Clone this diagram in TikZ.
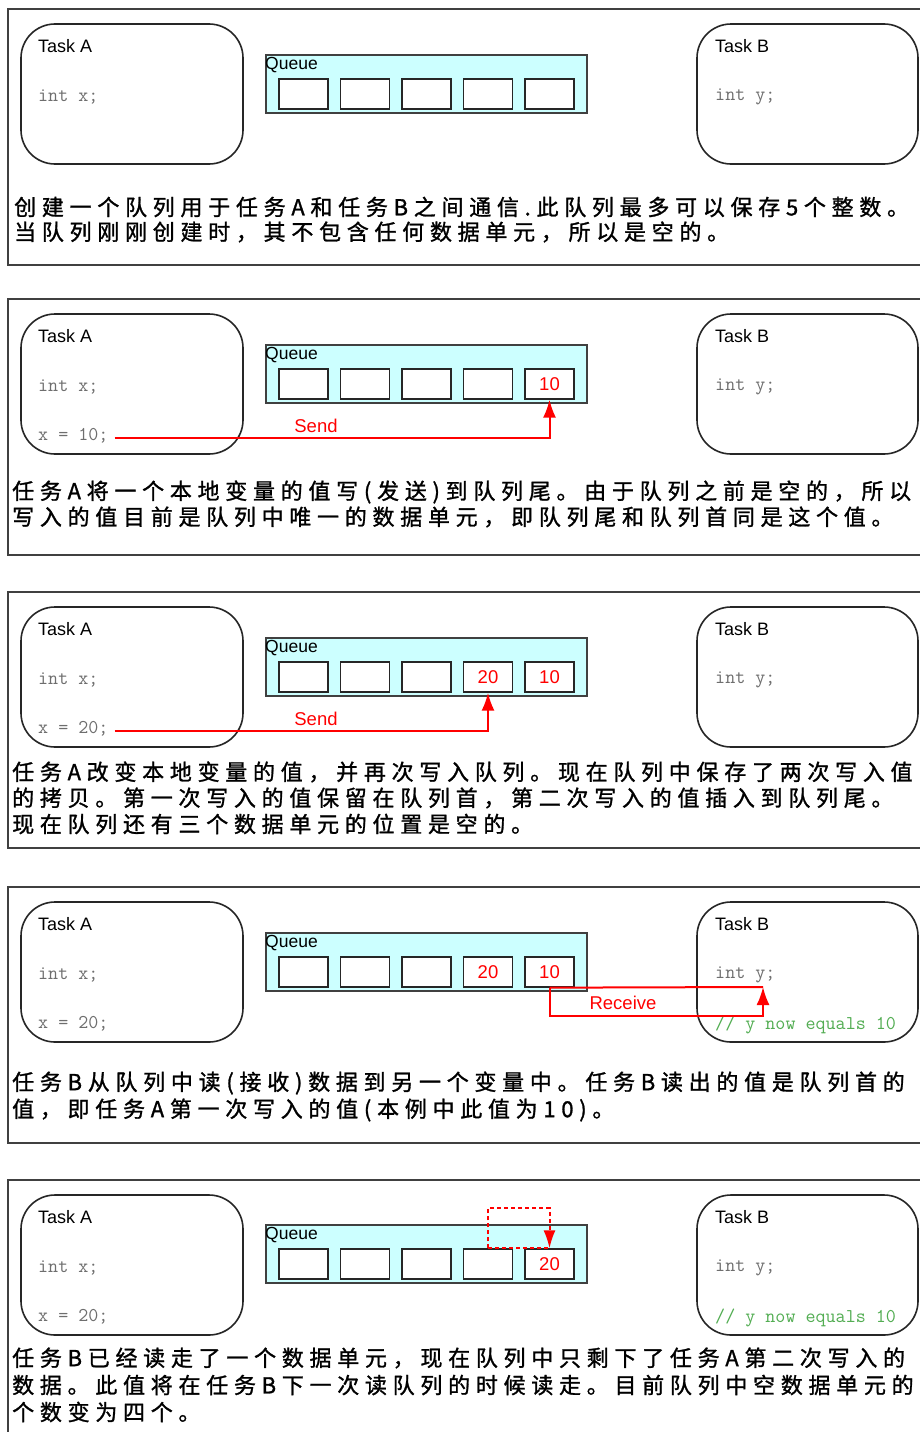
\documentclass[tikz,border=0pt]{standalone}
\usepackage{fontspec}
\setmainfont{Liberation Sans}
\newfontfamily\cjk[LetterSpace=26,FakeBold=1.2]{Noto Sans CJK SC}
\usetikzlibrary{arrows.meta}
\definecolor{qcyan}{HTML}{CCFFFF}
\definecolor{codegreen}{HTML}{52AD52}
\definecolor{codegray}{HTML}{6E6E6E}
\tikzset{
 frame/.style={draw=black!75, line width=1.3pt},
 taskbox/.style={draw=black!85, line width=1.6pt, rounded corners=34pt, minimum width=222pt, minimum height=140pt, inner sep=0},
 tasklbl/.style={anchor=west, inner sep=0, font=\fontsize{18}{20}\selectfont},
 code/.style={anchor=west, inner sep=0, text=codegray, font=\ttfamily\fontsize{19.5}{22}\selectfont},
 comment/.style={code, text=codegreen},
 qbox/.style={draw=black!75, line width=1.2pt, fill=qcyan, minimum width=321pt, minimum height=58pt, inner sep=0},
 qlbl/.style={anchor=west, inner sep=0, font=\fontsize{17.5}{20}\selectfont},
 cell/.style={draw=black!85, line width=1.3pt, fill=white, minimum width=49pt, minimum height=30pt, inner sep=0},
 val/.style={text=red, inner sep=0, font=\fontsize{18.5}{20}\selectfont},
 redlbl/.style={text=red, inner sep=0, font=\fontsize{18.5}{20}\selectfont},
 sendln/.style={draw=red, line width=2pt, -{Latex[length=18pt,width=13pt]}},
 recvln/.style={draw=red, line width=2pt},
 dashln/.style={draw=red, line width=2pt, dash pattern=on 4pt off 3pt},
 para/.style={anchor=west, inner sep=0, font=\cjk\fontsize{22}{26}\selectfont},
}
% id, frame top, task top, queue top
\newcommand\qpanel[4]{%
 \draw[frame] (930,#2) -- (8,#2) -- (8,{#2+256}) -- (930,{#2+256});
 \node[taskbox] (#1A) at (132,{#3+70}) {};
 \node[taskbox, minimum width=221pt] (#1B) at (807.5,{#3+70}) {};
 \node[tasklbl] (#1An) at (38,{#3+22}) {Task A};
 \node[code] (#1Ai) at (38,{#3+73}) {int x;};
 \node[tasklbl] (#1Bn) at (715,{#3+22}) {Task B};
 \node[code] (#1Bi) at (715,{#3+73}) {int y;};
 \node[qbox] (#1Q) at (426.5,{#4+29}) {};
 \node[qlbl] (#1Ql) at (265,{#4+10}) {Queue};
 \foreach \i in {1,...,5} {\node[cell] (#1c\i) at ({303.5+61.5*(\i-1)},{#4+39}) {};}
}
\begin{document}
\begin{tikzpicture}[x=1pt,y=-1pt]
\useasboundingbox (0,0) rectangle (919,1432);
\fill[white] (0,0) rectangle (919,1432);
% ---------- panel 1
\qpanel{1}{9}{24}{55}
\node[para] (p1a) at (14,207) {创建一个队列用于任务A和任务B之间通信.此队列最多可以保存5个整数。};
\node[para] (p1b) at (14,232) {当队列刚刚创建时，其不包含任何数据单元，所以是空的。};
% ---------- panel 2
\qpanel{2}{299}{314}{345}
\node[code] (2Ax) at (38,436) {x = 10;};
\node[val] (2v5) at (2c5) {10};
\draw[sendln, shorten <=6pt] ([yshift=-2pt]2Ax.east) -| (2c5.south);
\node[redlbl] (2snd) at (316,426) {Send};
\node[para] (p2a) at (12,492) {任务A将一个本地变量的值写(发送)到队列尾。由于队列之前是空的，所以};
\node[para] (p2b) at (12,517) {写入的值目前是队列中唯一的数据单元，即队列尾和队列首同是这个值。};
% ---------- panel 3
\qpanel{3}{592}{607}{638}
\node[code] (3Ax) at (38,729) {x = 20;};
\node[val] (3v4) at (3c4) {20};
\node[val] (3v5) at (3c5) {10};
\draw[sendln, shorten <=6pt] ([yshift=-2pt]3Ax.east) -| (3c4.south);
\node[redlbl] (3snd) at (316,719) {Send};
\node[para] (p3a) at (12,772) {任务A改变本地变量的值，并再次写入队列。现在队列中保存了两次写入值};
\node[para] (p3b) at (12,798) {的拷贝。第一次写入的值保留在队列首，第二次写入的值插入到队列尾。};
\node[para] (p3c) at (12,824) {现在队列还有三个数据单元的位置是空的。};
% ---------- panel 4
\qpanel{4}{887}{902}{933}
\node[code] (4Ax) at (38,1024) {x = 20;};
\node[comment] (4Bc) at (715,1025) {// y now equals 10};
\node[val] (4v4) at (4c4) {20};
\node[val] (4v5) at (4c5) {10};
\coordinate (4ry) at (763,987);
\draw[recvln] (4c5.south) -- (4ry);
\draw[sendln] (4c5.south) -- ++(0,28) -| (4ry);
\node[redlbl] (4rcv) at (623,1003) {Receive};
\node[para] (p4a) at (12,1083) {任务B从队列中读(接收)数据到另一个变量中。任务B读出的值是队列首的};
\node[para] (p4b) at (12,1110) {值，即任务A第一次写入的值(本例中此值为10)。};
% ---------- panel 5
\qpanel{5}{1180}{1195}{1225}
\node[code] (5Ax) at (38,1317) {x = 20;};
\node[comment] (5Bc) at (715,1318) {// y now equals 10};
\node[val] (5v5) at (5c5) {20};
\draw[dashln] (5c4.north) -- (5c5.north);
\draw[dashln, -{Latex[length=18pt,width=12pt]}] (5c4.north) -- ++(0,-40) -| (5c5.north);
\node[para] (p5a) at (12,1358) {任务B已经读走了一个数据单元，现在队列中只剩下了任务A第二次写入的};
\node[para] (p5b) at (12,1385) {数据。此值将在任务B下一次读队列的时候读走。目前队列中空数据单元的};
\node[para] (p5c) at (12,1412) {个数变为四个。};
\end{tikzpicture}
\end{document}
